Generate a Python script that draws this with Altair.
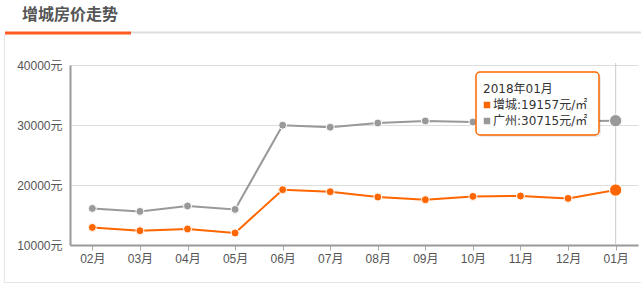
import altair as alt
import pandas as pd

months = ["02月", "03月", "04月", "05月", "06月", "07月", "08月", "09月", "10月", "11月", "12月", "01月"]
zengcheng = [12930, 12380, 12670, 12000, 19220, 18880, 18000, 17550, 18100, 18170, 17770, 19157]
guangzhou = [16100, 15600, 16500, 15930, 29970, 29630, 30330, 30670, 30500, 30550, 30620, 30715]
series = ["增城", "广州"]
colors = ["#ff6600", "#999999"]
y_ticks = [10000, 20000, 30000, 40000]
title_text = "增城房价走势"
tip_month = "2018年01月"

rows = []
for i, m in enumerate(months):
    rows.append({"month": m, "series": "增城", "price": zengcheng[i], "last": i == len(months) - 1})
    rows.append({"month": m, "series": "广州", "price": guangzhou[i], "last": i == len(months) - 1})
df = pd.DataFrame(rows)

FONT = "Liberation Sans, Noto Sans CJK SC, sans-serif"
TIPFONT = "DejaVu Sans, Noto Sans CJK SC, sans-serif"
W, H = 568, 180

x_enc = alt.X("month:N", sort=months, scale=alt.Scale(type="point", padding=0.47),
              axis=alt.Axis(title=None, labelAngle=0, labelAlign="center", labelBaseline="top",
                            labelFont=FONT, labelFontSize=12,
                            labelColor="#555555", domainColor="#999999", domainWidth=2,
                            tickColor="#aaaaaa", tickSize=5, labelPadding=3, grid=False))
y_enc = alt.Y("price:Q", scale=alt.Scale(domain=[10000, 40000], nice=False, zero=False),
              axis=alt.Axis(title=None, values=y_ticks, labelExpr="datum.value + '元'",
                            labelFont=FONT, labelFontSize=12, labelColor="#555555",
                            domainColor="#999999", domainWidth=2, ticks=False, labelPadding=8,
                            gridColor="#dddddd", gridWidth=1))
color_enc = alt.Color("series:N", scale=alt.Scale(domain=series, range=colors), legend=None)

base = alt.Chart(df)

hover = alt.Chart(pd.DataFrame({"month": [months[-1]]})).mark_rule(color="#cccccc", strokeWidth=1).encode(
    x=alt.X("month:N", sort=months), y=alt.value(-2), y2=alt.value(H))

lines = base.mark_line(strokeWidth=2).encode(x=x_enc, y=y_enc, color=color_enc, detail="series:N")
points = base.mark_point(filled=True, opacity=1, stroke="white", strokeWidth=1).encode(
    x=alt.X("month:N", sort=months), y="price:Q",
    fill=alt.Fill("series:N", scale=alt.Scale(domain=series, range=colors), legend=None),
    size=alt.condition("datum.last", alt.value(150), alt.value(64)))

one = pd.DataFrame({"a": [0]})
# tooltip box
shadow = alt.Chart(one).mark_rect(cornerRadius=4, fill="#000000", opacity=0.08).encode(
    x=alt.value(408), x2=alt.value(531), y=alt.value(9), y2=alt.value(72))
box = alt.Chart(one).mark_rect(cornerRadius=4, fill="white", stroke="#ff6600", strokeWidth=1.5).encode(
    x=alt.value(406), x2=alt.value(529), y=alt.value(7), y2=alt.value(70))
tip_lines = pd.DataFrame({
    "t": [tip_month, f"{series[0]}:{zengcheng[-1]}元/㎡", f"{series[1]}:{guangzhou[-1]}元/㎡"],
    "yy": [24, 40, 56], "xx": [413, 423, 423]})
tip_text = alt.Chart(tip_lines).mark_text(align="left", baseline="middle", font=TIPFONT, fontSize=12, color="#333333").encode(
    x=alt.X("xx:Q", scale=None), y=alt.Y("yy:Q", scale=None), text="t:N")
sq = pd.DataFrame({"s": series, "yy": [40, 56]})
squares = alt.Chart(sq).mark_square(size=42, opacity=1).encode(
    x=alt.value(417), y=alt.Y("yy:Q", scale=None),
    color=alt.Color("s:N", scale=alt.Scale(domain=series, range=colors), legend=None))

# page decorations
title = alt.Chart(one).mark_text(text=title_text, align="left", baseline="middle", font="Noto Sans CJK SC",
                                 fontSize=16, fontWeight="bold", color="#555555").encode(
    x=alt.value(-48), y=alt.value(-50))
under_gray = alt.Chart(one).mark_rule(color="#dddddd", strokeWidth=2).encode(
    x=alt.value(61), x2=alt.value(571), y=alt.value(-32.5))
under_orange = alt.Chart(one).mark_rule(color="#ff5a1f", strokeWidth=3).encode(
    x=alt.value(-65), x2=alt.value(61), y=alt.value(-32))
left_border = alt.Chart(one).mark_rule(color="#e5e5e5", strokeWidth=1).encode(
    x=alt.value(-65.5), y=alt.value(-31), y2=alt.value(218))
bottom_border = alt.Chart(one).mark_rule(color="#e5e5e5", strokeWidth=1).encode(
    x=alt.value(-66), x2=alt.value(571), y=alt.value(217.5))

chart = alt.layer(
    hover, lines, points, shadow, box, tip_text, squares,
    title, under_gray, under_orange, left_border, bottom_border
).properties(
    width=W, height=H,
    autosize=alt.AutoSizeParams(type="none"),
    padding={"left": 70, "top": 65, "right": 3, "bottom": 42},
    background="white"
).configure_view(stroke=None)

chart.save("out.html", embed_options={"renderer": "svg", "actions": False})
